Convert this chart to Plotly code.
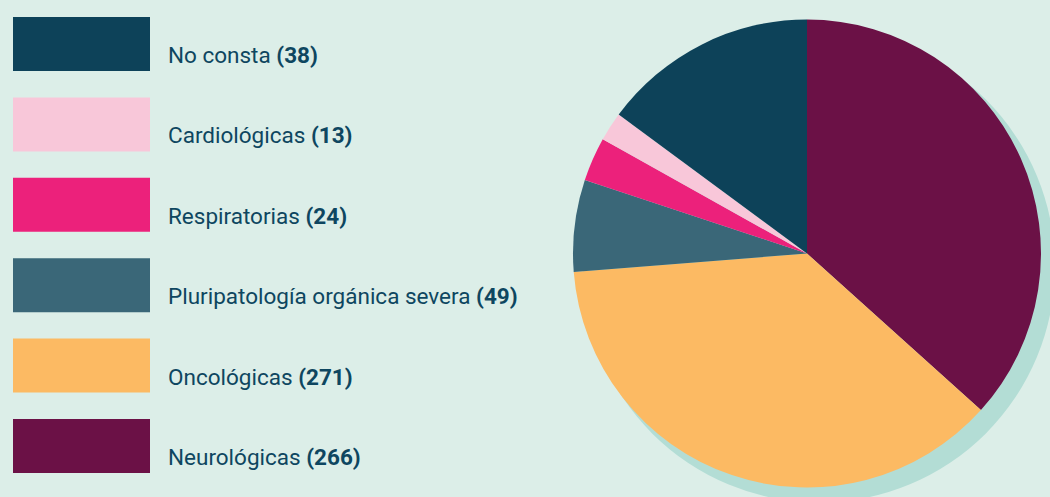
import plotly.graph_objects as go

# Legend rows (top to bottom) and their labelled counts
categories = ["No consta", "Cardiológicas", "Respiratorias",
              "Pluripatología orgánica severa", "Oncológicas", "Neurológicas"]
label_counts = [38, 13, 24, 49, 271, 266]
colors = ["#0D4259", "#F8C7D9", "#EC217B", "#3A6778", "#FCBA63", "#6B1146"]

# Wedge sizes as drawn in the picture (the drawn "No consta" wedge is larger
# than its labelled count), read in clockwise order from 12 o'clock
pie_order = ["Neurológicas", "Oncológicas", "Pluripatología orgánica severa",
             "Respiratorias", "Cardiológicas", "No consta"]
slice_values = [266, 269, 46, 22, 14.5, 108]

W, H = 1050, 497
BG = "#DCEEE8"
TEXT = "#0E4660"
SHADOW = "#B3DDD5"

# pie geometry (pixels)
cx, cy, r = 807, 253.5, 234
sdx, sdy, sr = 12, 13, 236

color_of = dict(zip(categories, colors))

fig = go.Figure()
fig.add_trace(go.Pie(
    labels=pie_order,
    values=slice_values,
    marker=dict(colors=[color_of[c] for c in pie_order], line=dict(width=0)),
    sort=False,
    direction="clockwise",
    rotation=0,
    textinfo="none",
    hoverinfo="label",
    showlegend=False,
    domain=dict(x=[(cx - r) / W, (cx + r) / W],
                y=[(H - cy - r) / H, (H - cy + r) / H]),
))

shapes = [dict(type="circle", xref="paper", yref="paper", layer="below",
               x0=(cx + sdx - sr) / W, x1=(cx + sdx + sr) / W,
               y0=(H - cy - sdy - sr) / H, y1=(H - cy - sdy + sr) / H,
               fillcolor=SHADOW, line=dict(width=0))]
annotations = []

top0, step, rh = 17, 80.4, 54
rx0, rx1, tx = 13, 150, 166
for i, (cat, n, col) in enumerate(zip(categories, label_counts, colors)):
    t = top0 + i * step
    shapes.append(dict(type="rect", xref="paper", yref="paper",
                       x0=rx0 / W, x1=rx1 / W,
                       y0=1 - (t + rh) / H, y1=1 - t / H,
                       fillcolor=col, line=dict(width=0)))
    annotations.append(dict(
        xref="paper", yref="paper", x=tx / W, y=1 - (t + rh / 2 + 11) / H,
        xanchor="left", yanchor="middle", showarrow=False,
        text=f"{cat} <b>({n})</b>",
        font=dict(family="Roboto, Liberation Sans Narrow, sans-serif",
                  size=22.5, color=TEXT)))

fig.update_layout(
    width=W, height=H,
    margin=dict(l=0, r=0, t=0, b=0),
    paper_bgcolor=BG, plot_bgcolor=BG,
    shapes=shapes, annotations=annotations,
    showlegend=False,
)

fig.write_html(
    "out.html",
    config={"displayModeBar": False},
    post_script="document.body.style.margin='0';"
                "document.body.style.background='" + BG + "';",
)
